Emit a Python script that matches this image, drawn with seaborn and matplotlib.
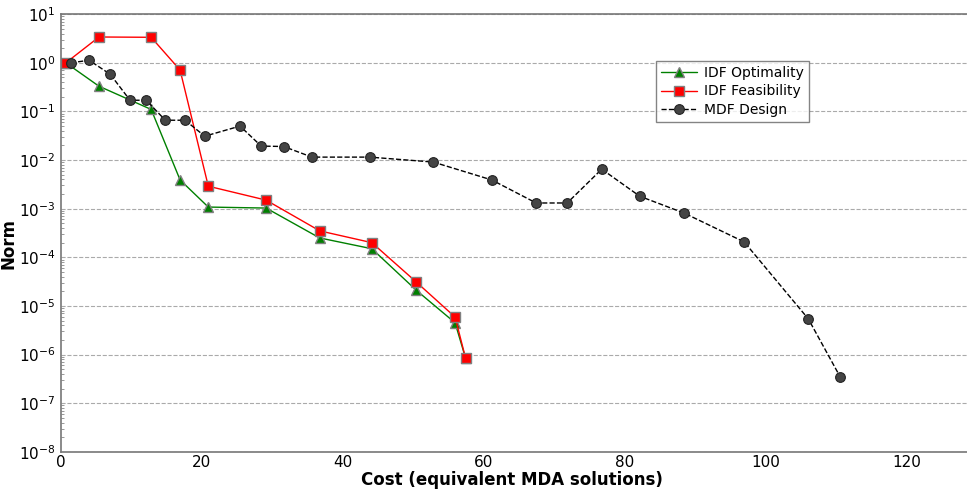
import numpy as np
import pandas as pd
import seaborn as sns
import matplotlib
matplotlib.use('Agg')
import matplotlib.pyplot as plt
from matplotlib.ticker import LogLocator, MultipleLocator

# values
idf_cost = [0.7, 5.4, 12.8, 16.9, 20.9, 29.1, 36.7, 44.1, 50.4, 55.9, 57.4]
idf_opt = [1.0, 0.33, 0.11, 0.0039, 0.00108, 0.00103, 2.5e-4, 1.5e-4, 2.1e-5, 4.5e-6, 8.3e-7]
idf_feas = [1.0, 3.4, 3.35, 0.71, 0.0029, 0.0015, 3.5e-4, 2.0e-4, 3.1e-5, 5.9e-6, 8.3e-7]

mdf_cost = [1.4, 4.0, 7.0, 9.8, 12.1, 14.8, 17.6, 20.4, 25.4, 28.4, 31.6, 35.6,
            43.8, 52.8, 61.1, 67.4, 71.8, 76.7, 82.1, 88.4, 96.9, 106.0, 110.5]
mdf_norm = [1.0, 1.13, 0.58, 0.17, 0.17, 0.066, 0.066, 0.031, 0.050, 0.0194, 0.0190, 0.0115,
            0.0115, 0.0091, 0.0039, 0.00131, 0.00131, 0.0065, 0.0018, 0.00081, 2.07e-4, 5.4e-6, 3.5e-7]

sns.set_style('white')
plt.rcParams['font.family'] = ['DejaVu Sans']
plt.rcParams['text.color'] = 'black'
plt.rcParams['axes.labelcolor'] = 'black'

fig = plt.figure(figsize=(9.67, 4.9), dpi=100)
ax = fig.add_axes([0.063, 0.078, 0.937, 0.893])

sns.lineplot(x=idf_cost, y=idf_opt, ax=ax, estimator=None, sort=False,
             color='green', lw=1, marker='^', markersize=7,
             markerfacecolor='green', markeredgecolor='gray', markeredgewidth=1,
             label='IDF Optimality')
sns.lineplot(x=idf_cost, y=idf_feas, ax=ax, estimator=None, sort=False,
             color='red', lw=1, marker='s', markersize=7,
             markerfacecolor='red', markeredgecolor='gray', markeredgewidth=1,
             label='IDF Feasibility')
sns.lineplot(x=mdf_cost, y=mdf_norm, ax=ax, estimator=None, sort=False,
             color='black', lw=1, linestyle='--', marker='o', markersize=7,
             markerfacecolor='#444444', markeredgecolor='#222222', markeredgewidth=0.8,
             label='MDF Design')

ax.set_yscale('log')
ax.set_ylim(1e-8, 10)
ax.set_xlim(0, 128.5)
ax.xaxis.set_major_locator(MultipleLocator(20))
ax.yaxis.set_major_locator(LogLocator(base=10, numticks=20))
ax.yaxis.set_minor_locator(LogLocator(base=10, subs=np.arange(2, 10), numticks=20))

ax.grid(axis='y', which='major', color='#aaaaaa', linestyle='--', linewidth=0.8)
ax.grid(axis='x', visible=False)

for s in ['left', 'bottom', 'top']:
    ax.spines[s].set_color('#777777')
    ax.spines[s].set_linewidth(1.2)
ax.spines['right'].set_visible(False)

ax.tick_params(axis='both', which='both', direction='in', colors='#888888',
               labelcolor='black', labelsize=11)
ax.tick_params(axis='x', which='major', length=4, pad=2)
ax.tick_params(axis='y', which='major', length=4, pad=4)
ax.tick_params(axis='y', which='minor', length=2, left=True)
ax.tick_params(top=False, right=False)

ax.set_xlabel('Cost (equivalent MDA solutions)', fontsize=12, fontweight='bold')
ax.set_ylabel('Norm', fontsize=12, fontweight='bold')
ax.xaxis.set_label_coords(0.498, -0.043)
ax.yaxis.set_label_coords(-0.048, 0.477)

leg = ax.legend(loc='upper left', bbox_to_anchor=(0.657, 0.892), fontsize=10,
                frameon=True, fancybox=False, borderpad=0.35, labelspacing=0.3,
                handlelength=2.6, handletextpad=0.5, borderaxespad=0)
leg.get_frame().set_edgecolor('#666666')
leg.get_frame().set_linewidth(1)

fig.savefig('out.png', dpi=100)
